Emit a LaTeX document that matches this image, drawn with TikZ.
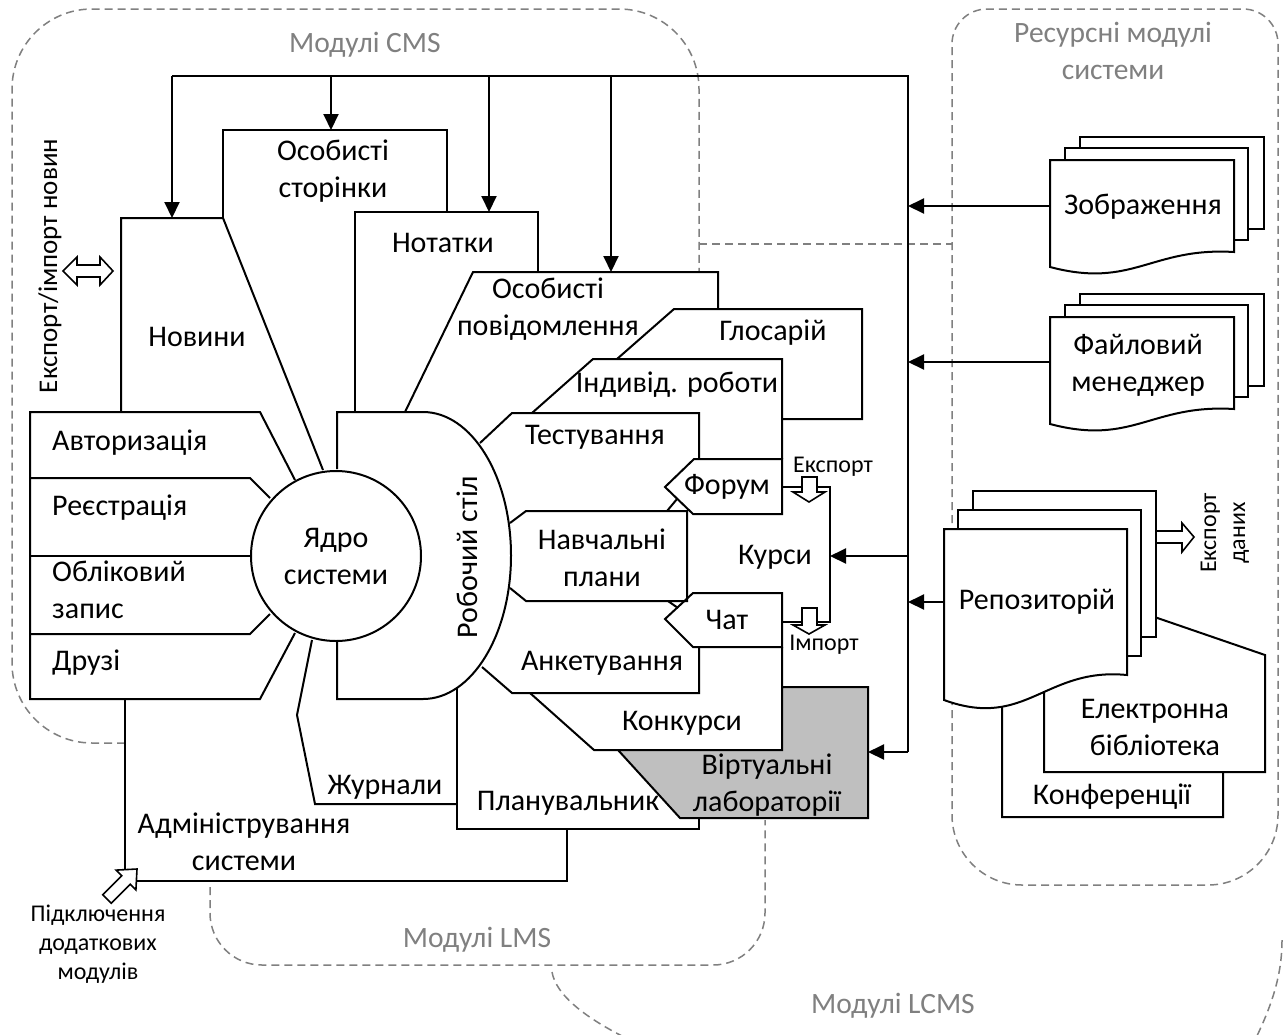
\documentclass[tikz,border=0pt]{standalone}
\usepackage{fontspec}
\setmainfont{Carlito}
\usetikzlibrary{arrows.meta}

\definecolor{zonegray}{RGB}{128,128,128}
\definecolor{labfill}{RGB}{191,191,191}

\tikzset{
  zone/.style={draw=zonegray, line width=1.5pt, dash pattern=on 8pt off 5pt},
  zonetext/.style={text=zonegray, font=\fontsize{29.5}{37}\selectfont, align=center, inner sep=0pt},
  edge/.style={draw, line width=2pt, line join=miter},
  lbl/.style={font=\fontsize{30}{37}\selectfont, align=center, inner sep=0pt},
  small/.style={font=\fontsize{24}{29}\selectfont, align=center, inner sep=0pt},
  feed/.style={line width=2pt, -{Triangle[length=16pt,width=15pt]}},
  hollow/.style={draw, fill=white, line width=1.6pt, line join=miter},
  page/.style={draw, fill=white, line width=2pt, line join=miter}
}

\begin{document}
\begin{tikzpicture}[x=1pt, y=-1pt]
    \useasboundingbox (0,0) rectangle (1285,1034);
    \fill[white] (0,0) rectangle (1285,1034);

    % dashed zones
    \draw[zone, rounded corners=80] (125,743) -- (12,743) -- (12,9) -- (699,9) -- (699,272);
    \draw[zone] (699,244) -- (952,244);
    \draw[zone] (952,450) [rounded corners=70] -- (952,885) -- (1278,885) [rounded corners=35] -- (1278,9) -- (952,9) [sharp corners] -- (952,450);
    \draw[zone, rounded corners=52] (210,887) -- (210,965) -- (765,965) -- (765,820);
    \draw[zone] (552,972) .. controls (556,995) and (585,1018) .. (630,1040);
    \draw[zone] (1282,940) .. controls (1282,975) and (1272,1005) .. (1255,1040);

    \node[zonetext] (cms) at (365,45) {Модулі CMS};
    \node[zonetext] (res) at (1113,51) {Ресурсні модулі\\системи};
    \node[zonetext] (lms) at (477,940) {Модулі LMS};
    \node[zonetext] (lcms) at (893,1006) {Модулі LCMS};

    % CMS boxes
    \draw[edge] (223,218) -- (223,130) -- (447,130) -- (447,212);
    \draw[edge] (121,412) -- (121,218) -- (223,218) -- (323,470);
    \draw[edge] (355,412) -- (355,212) -- (538,212) -- (538,272);
    \draw[edge] (405,412) -- (473,272) -- (718,272) -- (718,309);

    % LMS boxes
    \draw[edge] (617,359) -- (674,309) -- (862,309) -- (862,419) -- (782,419);
    \draw[edge] (532,413) -- (593,359) -- (782,359) -- (782,459);
    \draw[edge] (480,443) -- (512,413) -- (699,413) -- (699,459);
    \draw[edge] (694,459) -- (782,459) -- (782,514) -- (693,514) -- (665,487) -- cycle;
    \draw[edge] (782,487) -- (830,487) -- (830,622) -- (782,622);
    \draw[edge] (667,511) -- (677,499);
    \draw[edge] (668,601) -- (678,608);
    \draw[edge] (510,523) -- (526,511) -- (687,511) -- (687,601) -- (526,601) -- (510,588);
    \draw[edge] (693,593) -- (782,593) -- (782,647) -- (693,647) -- (665,619) -- cycle;
    \draw[edge] (699,647) -- (699,693) -- (512,693) -- (482,667);
    \draw[edge] (530,693) -- (594,750) -- (782,750) -- (782,647);
    \draw[edge, fill=labfill] (618,750) -- (782,750) -- (782,687) -- (868,687) -- (868,818) -- (680,818) -- cycle;
    \draw[edge] (457,688) -- (457,829) -- (699,829) -- (699,818);
    \draw[edge] (312,640) -- (297,715) -- (315,804) -- (457,804);
    \draw[edge] (125,699) -- (125,881) -- (567,881) -- (567,829);

    % core modules
    \draw[edge] (295,480) -- (260,412) -- (30,412) -- (30,699) -- (260,699) -- (295,633);
    \draw[edge] (30,478) -- (250,478) -- (270,498);
    \draw[edge] (30,556) -- (251,556);
    \draw[edge] (30,634) -- (250,634) -- (270,614);
    \draw[edge, fill=white] (337,469) -- (337,412) -- (423,412)
        .. controls (471.6,412) and (511,476.2) .. (511,555.5)
        .. controls (511,634.8) and (471.6,699) .. (423,699) -- (337,699) -- (337,642);
    \node[lbl, circle, draw, line width=2pt, fill=white, minimum size=170pt] (core) at (336,556) {Ядро\\системи};
    \node[lbl, rotate=90] (desk) at (467,557) {Робочий стіл};

    % exchange arrows
    \draw[hollow] (63,271) -- (77,257) -- (77,265) -- (100,265) -- (100,257) -- (113,271)
        -- (100,285) -- (100,277) -- (77,277) -- (77,285) -- cycle;
    \draw[hollow] (802,477) -- (817,477) -- (817,492) -- (825,492) -- (809,502) -- (793,492) -- (802,492) -- cycle;
    \draw[hollow] (802,608) -- (817,608) -- (817,625) -- (825,625) -- (809,634) -- (793,625) -- (802,625) -- cycle;
    \draw[hollow] (1157,531) -- (1182,531) -- (1182,523) -- (1194,537) -- (1182,552) -- (1182,543) -- (1157,543);
    \draw[hollow] (137,869) -- (135.9,889.9) -- (130.2,884.2) -- (111.2,903.2) -- (102.8,894.8)
        -- (121.8,875.8) -- (116.1,870.1) -- cycle;

    % resources
    \draw[page] (1002,690) -- (1044,680) -- (1223,680) -- (1223,817) -- (1002,817) -- cycle;
    \draw[page] (1044,579) -- (1265,655) -- (1265,772) -- (1044,772) -- cycle;
    \foreach \dx/\dy in {29/-38, 14/-19} {
        \draw[page] (944+\dx,529+\dy) rectangle ++(183,146);
    }
    \draw[page] (944,529) -- (1127,529) -- (1127,675) .. controls (1045,667) and (1026,730) .. (944,700) -- cycle;
    \foreach \top in {160, 317} {
        \draw[page] (1080,\top-23) rectangle ++(184,92);
        \draw[page] (1065,\top-12) rectangle ++(183,92);
        \draw[page] (1050,\top) -- (1234,\top) -- (1234,\top+92) .. controls (1151,\top+87) and (1133,\top+129) .. (1050,\top+107) -- cycle;
    }

    % bus
    \coordinate (busL) at (172,76);
    \coordinate (busR) at (908,76);
    \coordinate (busB) at (908,752);
    \coordinate (tapA) at (331,76);
    \coordinate (tapB) at (489,76);
    \coordinate (tapC) at (611,76);
    \coordinate (newsIn) at (172,218);
    \coordinate (pagesIn) at (331,130);
    \coordinate (notesIn) at (489,212);
    \coordinate (msgIn) at (611,272);
    \coordinate (imgOut) at (1050,206);
    \coordinate (busImg) at (908,206);
    \coordinate (filesOut) at (1050,362);
    \coordinate (busFiles) at (908,362);
    \coordinate (repoOut) at (944,602);
    \coordinate (busRepo) at (908,602);
    \coordinate (busCourse) at (908,556);
    \coordinate (courseIn) at (830,556);
    \coordinate (labIn) at (868,752);
    \draw[edge] (busL) -- (busR) -- (busB);
    \draw[feed] (busL) -- (newsIn);
    \draw[feed] (tapA) -- (pagesIn);
    \draw[feed] (tapB) -- (notesIn);
    \draw[feed] (tapC) -- (msgIn);
    \draw[feed] (imgOut) -- (busImg);
    \draw[feed] (filesOut) -- (busFiles);
    \draw[feed] (repoOut) -- (busRepo);
    \draw[feed] (busCourse) -- (courseIn);
    \draw[feed] (busB) -- (labIn);

    % labels
    \node[lbl] (pages) at (333,171) {Особисті\\сторінки};
    \node[lbl] (notes) at (443,243) {Нотатки};
    \node[lbl] (msg) at (548,309) {Особисті\\повідомлення};
    \node[lbl] (news) at (197,337) {Новини};
    \node[lbl] (gloss) at (773,333) {Глосарій};
    \node[lbl] (indiv) at (677,385) {Індивід. роботи};
    \node[lbl] (tests) at (595,437) {Тестування};
    \node[lbl] (forum) at (727,487) {Форум};
    \node[lbl] (plans) at (602,558) {Навчальні\\плани};
    \node[lbl] (course) at (775,557) {Курси};
    \node[lbl] (chat) at (727,620) {Чат};
    \node[lbl] (polls) at (602,663) {Анкетування};
    \node[lbl] (contest) at (682,723) {Конкурси};
    \node[lbl] (lab) at (767,785) {Віртуальні\\лабораторії};
    \node[lbl] (planner) at (568,803) {Планувальник};
    \node[lbl] (journal) at (385,787) {Журнали};
    \node[lbl] (admin) at (244,842) {Адміністрування\\системи};
    \node[lbl, anchor=west] (auth) at (52,443) {Авторизація};
    \node[lbl, anchor=west] (reg) at (52,508) {Реєстрація};
    \node[lbl, anchor=west, align=left] (acc) at (52,590) {Обліковий\\запис};
    \node[lbl, anchor=west] (friends) at (52,663) {Друзі};
    \node[lbl] (img) at (1143,207) {Зображення};
    \node[lbl] (files) at (1138,365) {Файловий\\менеджер};
    \node[lbl] (repo) at (1037,602) {Репозиторій};
    \node[lbl] (elib) at (1155,727) {Електронна\\бібліотека};
    \node[lbl] (conf) at (1112,797) {Конференції};
    \node[small] (exp) at (833,467) {Експорт};
    \node[small] (imp) at (824,645) {Імпорт};
    \node[small, font=\fontsize{27}{32}\selectfont, rotate=90] (newsx) at (50,266) {Експорт/імпорт новин};
    \node[small, rotate=90] (datax) at (1225,533) {Експорт\\даних};
    \node[small] (plug) at (98,944) {Підключення\\додаткових\\модулів};
\end{tikzpicture}
\end{document}
